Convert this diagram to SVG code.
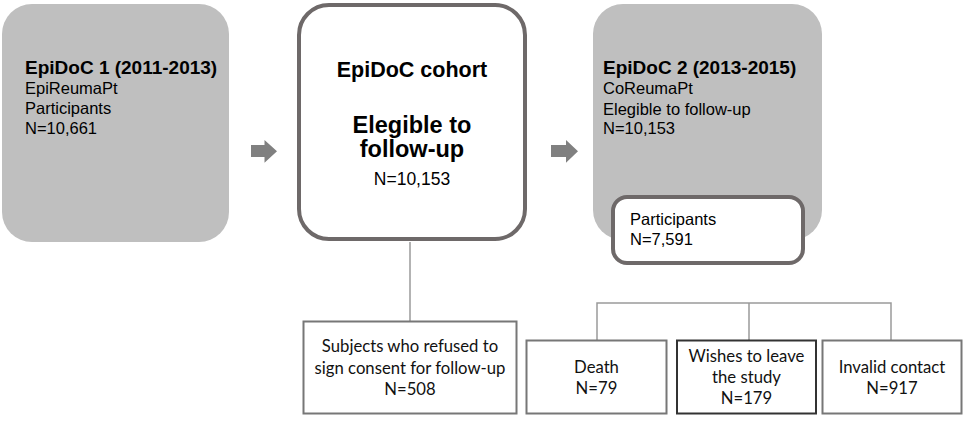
<svg xmlns="http://www.w3.org/2000/svg" width="965" height="422" viewBox="0 0 965 422">
<style>
.gray{fill:#bfbfbf;}
.main{fill:#fff;stroke:#6e6969;stroke-width:4;}
.small{fill:#fff;stroke:#6e6969;stroke-width:4;}
.bx{fill:#fff;stroke:#777;stroke-width:2;}
.bxd{fill:#fff;stroke:#333;stroke-width:2;}
.arrow{fill:#808080;}
.conn{stroke:#9a9a9a;stroke-width:1.5;fill:none;}
.t{font-family:"Liberation Sans",Arial,sans-serif;fill:#000;}
.b{font-weight:bold;}
.c{font-family:Lato,"Liberation Sans",sans-serif;fill:#111;font-size:16.7px;text-anchor:middle;}
</style>
<g id="connectors">
<path class="conn" d="M410,242 V321"/>
<path class="conn" d="M597,340 V303 H891 V340 M749,303 V340"/>
<polygon class="arrow" points="251,145 264.5,145 264.5,140 277,151.3 264.5,162.7 264.5,157 251,157"/>
<polygon class="arrow" points="551,145 566,145 566,140 578,151.3 566,162.7 566,157 551,157"/>
</g>
<g id="epidoc1">
<rect class="gray" x="2" y="4" width="227" height="238" rx="30"/>
<text class="t b" x="25" y="74" font-size="19">EpiDoC 1 (2011-2013)</text>
<text class="t" x="25" y="94" font-size="16.5">EpiReumaPt</text>
<text class="t" x="25" y="114" font-size="16.5">Participants</text>
<text class="t" x="25" y="134" font-size="16.5">N=10,661</text>
</g>
<g id="cohort">
<rect class="main" x="299" y="5" width="226" height="234" rx="30"/>
<text class="t b" x="412" y="77" font-size="21.5" text-anchor="middle">EpiDoC cohort</text>
<text class="t b" x="412" y="133" font-size="23.5" text-anchor="middle">Elegible to</text>
<text class="t b" x="412" y="157" font-size="23.5" text-anchor="middle">follow-up</text>
<text class="t" x="412" y="185" font-size="17.5" text-anchor="middle">N=10,153</text>
</g>
<g id="epidoc2">
<rect class="gray" x="593" y="4" width="229" height="236" rx="30"/>
<text class="t b" x="603" y="74" font-size="19">EpiDoC 2 (2013-2015)</text>
<text class="t" x="603" y="94" font-size="16.5">CoReumaPt</text>
<text class="t" x="603" y="115" font-size="16.5">Elegible to follow-up</text>
<text class="t" x="603" y="134" font-size="16.5">N=10,153</text>
</g>
<g id="participants">
<rect class="small" x="613" y="197" width="190" height="66" rx="14"/>
<text class="t" x="630" y="225" font-size="16.5">Participants</text>
<text class="t" x="630" y="245" font-size="16.5">N=7,591</text>
</g>
<g id="refused">
<rect class="bx" x="303.5" y="321.5" width="213" height="92"/>
<text class="c" x="410" y="352">Subjects who refused to</text>
<text class="c" x="410" y="373.5">sign consent for follow-up</text>
<text class="c" x="410" y="394.5">N=508</text>
</g>
<g id="death">
<rect class="bx" x="526.5" y="340.5" width="140" height="73"/>
<text class="c" x="596.5" y="372.5">Death</text>
<text class="c" x="596.5" y="393.5">N=79</text>
</g>
<g id="wishes">
<rect class="bxd" x="677" y="340.5" width="139" height="73"/>
<text class="c" x="746.5" y="361.5">Wishes to leave</text>
<text class="c" x="746.5" y="382.5">the study</text>
<text class="c" x="746.5" y="403.5">N=179</text>
</g>
<g id="invalid">
<rect class="bx" x="822.5" y="340.5" width="139" height="73"/>
<text class="c" x="892" y="372.5">Invalid contact</text>
<text class="c" x="892" y="393.5">N=917</text>
</g>
</svg>
